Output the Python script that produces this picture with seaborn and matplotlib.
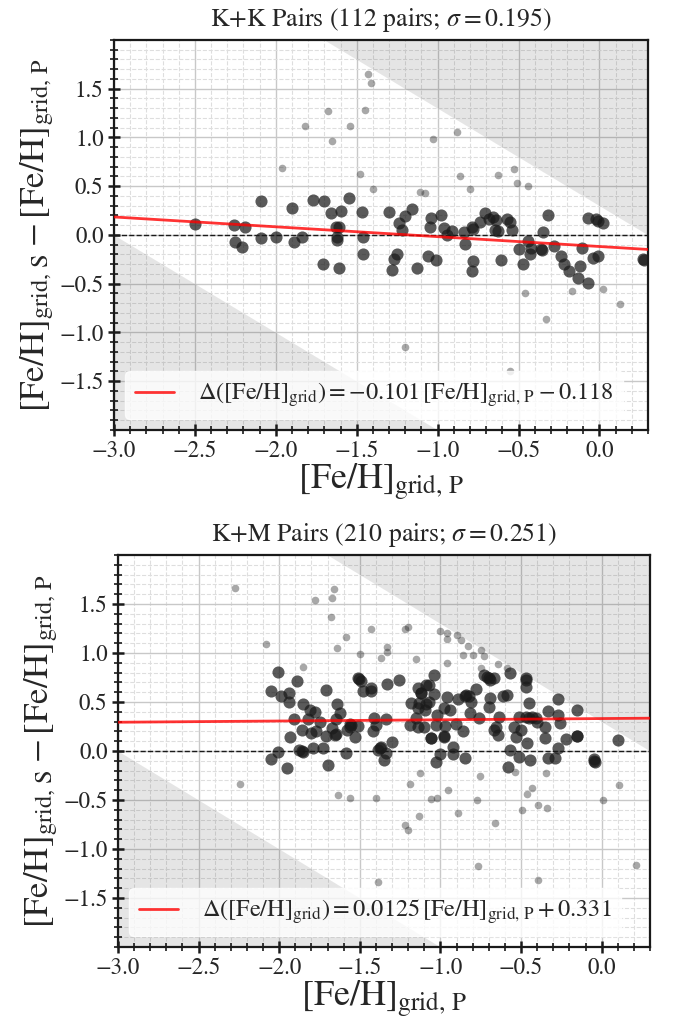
import numpy as np
import pandas as pd
import matplotlib
matplotlib.use("Agg")
import matplotlib.pyplot as plt
from matplotlib.ticker import MultipleLocator
import seaborn as sns

# ---------------- K+K pairs ----------------
kk_in_x = [-2.50, -2.26, -2.19, -2.25, -2.21, -2.09, -2.09, -2.00, -1.90, -1.89,
           -1.84, -1.77, -1.70, -1.66, -1.60, -1.55, -1.63, -1.61, -1.62, -1.62,
           -1.71, -1.61, -1.47, -1.46, -1.46, -1.30, -1.24, -1.20, -1.16, -1.22,
           -1.27, -1.25, -1.28, -1.13, -1.06, -1.01, -1.04, -1.05, -0.98, -0.96,
           -0.94, -0.91, -0.84, -0.83, -0.79, -0.78, -0.74, -0.71, -0.68, -0.66,
           -0.64, -0.63, -0.57, -0.55, -0.54, -0.78, -0.79, -0.61, -0.50, -0.47,
           -0.44, -0.43, -0.42, -0.36, -0.355, -0.35, -0.32, -0.28, -0.24, -0.22,
           -0.19, -0.13, -0.12, -0.11, -0.07, -0.07, -0.02, -0.01, 0.02, -0.04,
           -0.01, 0.27, 0.275, -0.645]
kk_in_y = [0.11, 0.10, 0.08, -0.07, -0.12, 0.35, -0.03, -0.02, 0.28, -0.07,
           -0.02, 0.36, 0.35, 0.23, 0.25, 0.38, 0.085, 0.08, -0.05, -0.02,
           -0.30, -0.34, 0.24, -0.02, -0.19, 0.24, 0.12, 0.19, 0.27, 0.05,
           -0.25, -0.19, -0.36, -0.34, -0.22, -0.26, 0.17, 0.08, 0.21, 0.07,
           0.00, 0.045, 0.03, -0.09, 0.08, 0.06, 0.13, 0.23, 0.16, 0.18,
           0.15, 0.045, 0.16, 0.13, 0.055, -0.27, -0.37, -0.26, -0.14, -0.30,
           -0.06, -0.19, -0.13, -0.14, -0.155, 0.03, 0.21, -0.11, -0.22, -0.30,
           -0.37, -0.44, -0.32, -0.13, -0.49, 0.17, 0.16, 0.14, 0.12, -0.24,
           -0.22, -0.25, -0.26, 0.05]
kk_out_x = [-1.43, -1.41, -1.68, -1.45, -1.82, -1.54, -1.65, -1.96, -1.48, -1.40,
            -0.88, -1.03, -0.86, -0.80, -0.63, -0.53, -0.51, -0.44, -1.11, -1.08,
            -0.46, -0.17, 0.02, 0.13, -0.33, -1.20, -0.55]
kk_out_y = [1.65, 1.56, 1.27, 1.28, 1.12, 1.12, 0.96, 0.69, 0.63, 0.47,
            1.06, 0.98, 0.61, 0.47, 0.62, 0.68, 0.53, 0.50, 0.44, 0.43,
            -0.60, -0.57, -0.55, -0.71, -0.86, -1.15, -1.40]
kk_fit = (-0.101, -0.118)
kk_title = r"K+K Pairs (112 pairs; $\sigma=0.195$)"

# ---------------- K+M pairs ----------------
km_in_x = [-2.01, -1.89, -2.05, -1.99, -1.94, -1.94, -1.85, -1.71, -1.64, -1.51,
           -1.49, -1.48, -1.43, -1.43, -1.33, -1.26, -1.14, -1.09, -1.07, -1.04,
           -1.04, -1.12, -1.18, -1.13, -1.07, -0.96, -0.89, -0.84, -0.82, -0.78,
           -0.81, -0.73, -0.71, -0.67, -0.69, -0.57, -0.69, -0.61, -0.59, -0.47,
           -0.47, -0.47, -0.45, -0.27,
           -1.81, -1.78, -1.62, -1.91, -1.82, -1.745, -1.65, -1.56, -1.56, -1.51,
           -1.86, -1.80, -1.77, -1.71, -1.67, -1.65, -1.93, -1.58, -1.53, -1.41,
           -1.40, -1.34, -1.42, -1.30, -1.37, -1.39, -1.34, -1.35, -1.585, -1.79,
           -1.73, -1.88, -1.85, -2.01, -2.05, -1.95, -1.70, -1.14, -1.095, -1.15,
           -1.19, -1.14, -1.10, -1.02, -1.025, -0.97, -0.98, -0.94, -0.905, -0.86,
           -1.06, -0.98, -0.925, -0.925, -1.00, -1.025, -0.85, -0.815, -0.76, -0.70,
           -0.635, -0.655, -0.67, -0.64, -0.545, -0.50, -0.53, -0.465, -0.51, -0.47,
           -0.45, -0.41, -0.40, -0.33, -0.35, -0.35, -0.27, -0.26, -0.27, -0.22,
           -0.15, -0.15, -0.57, -0.51, -0.58, -0.445, -0.33, -0.29, -0.05, -0.04,
           0.10,
           -1.655, -1.86, -1.06, -0.98, -0.15, -0.045, -0.43, -1.375, -1.555, -1.09,
           -1.505, -0.70, -0.845, -1.12]
km_in_y = [0.81, 0.71, 0.61, 0.56, 0.595, 0.50, 0.48, 0.625, 0.48, 0.74,
           0.71, 0.61, 0.61, 0.64, 0.68, 0.72, 0.645, 0.67, 0.67, 0.78,
           0.58, 0.59, 0.49, 0.49, 0.50, 0.55, 0.53, 0.57, 0.56, 0.63,
           0.50, 0.78, 0.76, 0.74, 0.72, 0.80, 0.54, 0.56, 0.57, 0.74,
           0.72, 0.655, 0.49, 0.53,
           0.42, 0.40, 0.39, 0.33, 0.325, 0.30, 0.33, 0.28, 0.25, 0.26,
           0.21, 0.18, 0.20, 0.155, 0.23, 0.17, 0.14, 0.21, 0.145, 0.34,
           0.27, 0.33, 0.20, 0.09, 0.044, 0.01, -0.02, -0.09, -0.02, 0.03,
           0.03, 0.01, -0.007, -0.01, -0.08, -0.17, -0.14, 0.44, 0.415, 0.34,
           0.27, 0.25, 0.24, 0.365, 0.27, 0.26, 0.44, 0.415, 0.28, 0.20,
           0.13, 0.145, 0.04, -0.03, -0.03, -0.11, -0.07, 0.39, 0.34, 0.45,
           0.35, 0.25, 0.21, 0.16, 0.25, 0.21, 0.145, 0.08, 0.35, 0.35,
           0.34, 0.34, 0.30, 0.405, 0.24, 0.13, 0.365, 0.29, 0.03, 0.12,
           0.42, 0.15, 0.01, -0.06, -0.16, -0.09, -0.07, -0.07, -0.085, -0.115,
           0.11,
           0.165, 0.00, 0.135, 0.15, 0.15, -0.10, 0.345, 0.03, 0.27, 0.48,
           0.73, 0.75, 0.56, 0.59]
km_out_x = [-2.276, -1.66, -1.67, -1.78, -1.68, -2.08, -1.85, -1.64, -1.585, -1.43,
            -1.50, -1.37, -1.33, -1.33, -1.22, -1.20, -1.15, -1.00, -0.96, -0.96,
            -0.90, -0.87, -0.83, -0.86, -0.80, -0.75, -0.73, -0.96, -0.75, -0.64,
            -0.59,
            -2.245, -1.636, -1.56, -1.40, -1.39, -1.124, -1.186, -1.133, -1.222, -1.20,
            -1.056, -1.02, -0.953, -0.893, -0.752, -0.776, -0.661, -0.768, -0.54, -0.346,
            -0.431, -0.464, -0.493, -0.396, -0.336, -0.396, 0.01, 0.106, 0.215]
km_out_y = [1.66, 1.656, 1.56, 1.54, 1.365, 1.095, 0.855, 1.05, 1.16, 1.25,
            0.99, 0.95, 1.06, 1.01, 1.25, 1.27, 0.94, 1.22, 1.20, 1.145,
            1.18, 1.13, 1.07, 0.98, 0.98, 1.03, 0.97, 0.90, 0.85, 0.885,
            0.85,
            -0.335, -0.446, -0.48, -0.48, -1.336, -0.226, -0.34, -0.66, -0.754, -0.81,
            -0.49, -0.48, -0.40, -0.63, -0.25, -0.50, -0.73, -1.17, -0.21, -0.22,
            -0.375, -0.44, -0.60, -0.555, -0.58, -1.32, -0.50, -0.35, -1.16]
km_fit = (0.0125, 0.331)
km_title = r"K+M Pairs (210 pairs; $\sigma=0.251$)"

# grid limits of the primary/secondary metallicity
feh_min, feh_max = -3.0, 0.3
x_lim = (-3.0, 0.3)
y_lim = (-2.0, 2.0)

sns.set_theme(style="white")
plt.rcParams["font.family"] = ["STIXGeneral", "DejaVu Serif"]
plt.rcParams["mathtext.fontset"] = "stix"
plt.rcParams["axes.unicode_minus"] = True

fig = plt.figure(figsize=(6.76, 10.21), dpi=100)
W, H = 676.0, 1021.0
ax_top = fig.add_axes([114 / W, 1 - 430 / H, (648 - 114) / W, 390 / H])
ax_bot = fig.add_axes([118 / W, 1 - 947 / H, (650 - 118) / W, 392 / H])


def panel(ax, in_x, in_y, out_x, out_y, fit, title):
    ax.set_xlim(*x_lim)
    ax.set_ylim(*y_lim)
    xs = np.linspace(x_lim[0] - 0.1, x_lim[1] + 0.1, 50)
    # regions where the secondary metallicity would fall off the grid
    ax.fill_between(xs, feh_max - xs, y_lim[1] + 1, color="k", alpha=0.11,
                    lw=0, zorder=1)
    ax.fill_between(xs, y_lim[0] - 1, feh_min - xs, color="k", alpha=0.11,
                    lw=0, zorder=1)

    ax.axhline(0, color="k", ls="--", lw=1.0, zorder=2)

    df_out = pd.DataFrame({"p": out_x, "d": out_y})
    df_in = pd.DataFrame({"p": in_x, "d": in_y})
    sns.scatterplot(data=df_out, x="p", y="d", ax=ax, color="k", alpha=0.38,
                    s=30, linewidth=0, zorder=3)
    sns.scatterplot(data=df_in, x="p", y="d", ax=ax, color="k", alpha=0.72,
                    s=76, linewidth=0, zorder=4)

    slope, icpt = fit
    line_x = np.array(x_lim)
    sgn = "-" if icpt < 0 else "+"
    label = (r"$\Delta(\mathrm{[Fe/H]_{grid}})=%s\,\mathrm{[Fe/H]_{grid,\,P}}%s%s$"
             % (("%g" % slope), sgn, ("%g" % abs(icpt))))
    sns.lineplot(x=line_x, y=slope * line_x + icpt, ax=ax, color="red",
                 alpha=0.8, lw=2.0, label=label, zorder=5)

    ax.xaxis.set_major_locator(MultipleLocator(0.5))
    ax.xaxis.set_minor_locator(MultipleLocator(0.1))
    ax.yaxis.set_major_locator(MultipleLocator(0.5))
    ax.yaxis.set_minor_locator(MultipleLocator(0.1))
    ax.set_yticks([-1.5, -1.0, -0.5, 0.0, 0.5, 1.0, 1.5])
    ax.set_axisbelow(True)
    ax.grid(which="major", color="#c8c8c8", lw=1.0, ls="-")
    ax.grid(which="minor", color="#dedede", lw=0.8, ls="--")
    ax.tick_params(which="major", direction="inout", length=9, width=1.8,
                   labelsize=16.5, color="k", bottom=True, left=True,
                   top=False, right=False, pad=3)
    ax.tick_params(which="minor", direction="inout", length=5.5, width=1.2,
                   color="k", bottom=True, left=True, top=False, right=False)
    for sp in ax.spines.values():
        sp.set_color("k")
        sp.set_linewidth(1.6)

    ax.set_xlabel(r"$\mathrm{[Fe/H]_{grid,\,P}}$", fontsize=26, labelpad=0)
    ax.set_ylabel(r"$\mathrm{[Fe/H]_{grid,\,S}}-\mathrm{[Fe/H]_{grid,\,P}}$",
                  fontsize=25, labelpad=2)
    ax.set_title(title, fontsize=18.5, pad=10)
    leg = ax.legend(loc="lower left", fontsize=17.5, frameon=True,
                    fancybox=True, framealpha=0.8, handlelength=1.6,
                    handletextpad=1.0, borderaxespad=0.45)
    leg.get_frame().set_edgecolor("white")
    leg.get_frame().set_facecolor("white")


panel(ax_top, kk_in_x, kk_in_y, kk_out_x, kk_out_y, kk_fit, kk_title)
panel(ax_bot, km_in_x, km_in_y, km_out_x, km_out_y, km_fit, km_title)

fig.savefig("out.png", dpi=100)
